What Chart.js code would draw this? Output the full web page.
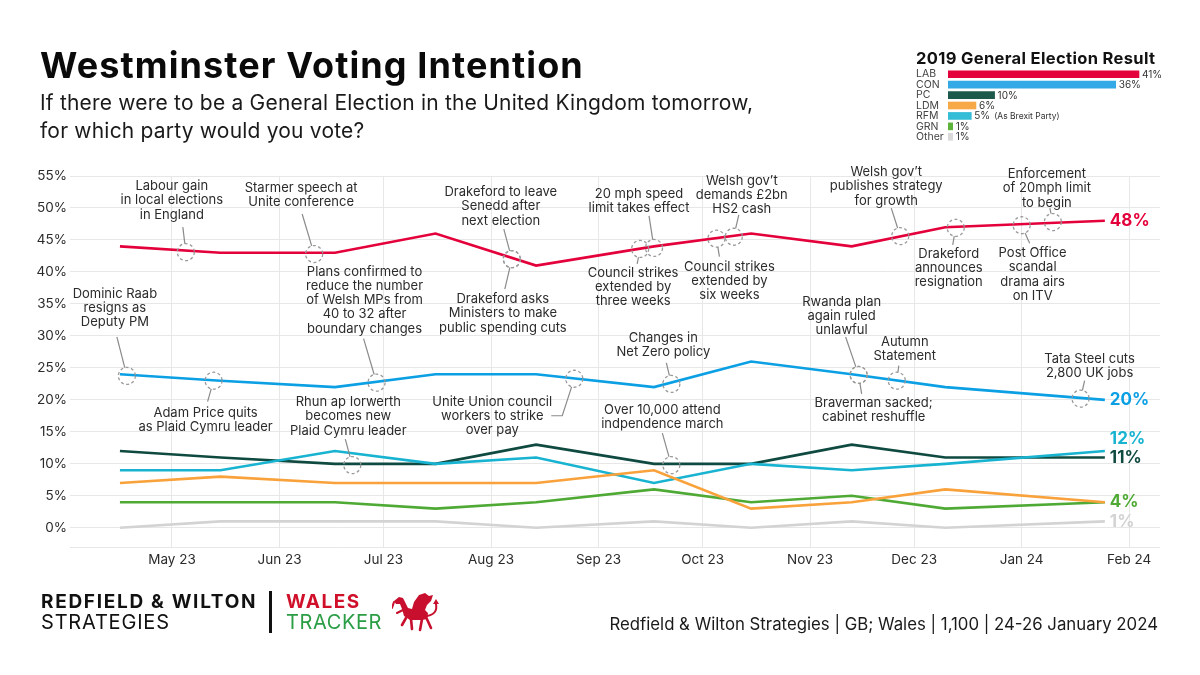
<!DOCTYPE html>
<html>
<head>
<meta charset="utf-8">
<script src="https://cdn.jsdelivr.net/npm/chart.js@4.4.0/dist/chart.umd.min.js"></script>
<style>
  body { margin: 0; width: 1200px; height: 675px; background: #fff; position: relative; overflow: hidden; font-family: Inter, sans-serif; color: #111; }
  .abs { position: absolute; white-space: nowrap; line-height: 1; }
  #title { left: 40px; top: 47px; font-weight: 700; font-size: 36px; letter-spacing: 1.1px; color: #0a0a0a; }
  #sub { left: 40px; top: 89px; font-size: 21px; letter-spacing: 0.2px; line-height: 28px; color: #1a1a1a; }
  #main { position: absolute; left: 0; top: 0; }
  #insetTitle { left: 916px; top: 50px; font-weight: 700; font-size: 16.5px; letter-spacing: 0.35px; color: #111; }
  #inset { position: absolute; left: 916px; top: 69px; }
  #rw1 { left: 41px; top: 592px; font-weight: 700; font-size: 19px; letter-spacing: 1.7px; color: #111; }
  #rw2 { left: 41px; top: 612px; font-size: 20px; letter-spacing: 0.8px; color: #111; }
  #bar { position: absolute; left: 269px; top: 591px; width: 2.5px; height: 42px; background: #111; }
  #w1 { left: 286px; top: 592px; font-weight: 700; font-size: 19px; letter-spacing: 1.5px; color: #d0102a; }
  #w2 { left: 286px; top: 612px; font-size: 20px; letter-spacing: 0.6px; color: #2a9d45; }
  #dragon { position: absolute; left: 392px; top: 592px; }
  #source { right: 42px; top: 616px; font-size: 16.8px; color: #1a1a1a; }
</style>
</head>
<body>
<canvas id="main" width="1200" height="675"></canvas>
<div id="title" class="abs">Westminster Voting Intention</div>
<div id="sub" class="abs">If there were to be a General Election in the United Kingdom tomorrow,<br>for which party would you vote?</div>
<div id="insetTitle" class="abs">2019 General Election Result</div>
<canvas id="inset" width="270" height="73"></canvas>
<div id="rw1" class="abs">REDFIELD &amp; WILTON</div>
<div id="rw2" class="abs">STRATEGIES</div>
<div id="bar"></div>
<div id="w1" class="abs">WALES</div>
<div id="w2" class="abs">TRACKER</div>
<canvas id="dragon" width="48" height="42"></canvas>
<div id="source" class="abs">Redfield &amp; Wilton Strategies | GB; Wales | 1,100 | 24-26 January 2024</div>
<script>
// poll fieldwork dates and shares (%)
const pollDates = ["2023-04-16", "2023-05-15", "2023-06-17", "2023-07-16", "2023-08-14",
                   "2023-09-17", "2023-10-15", "2023-11-13", "2023-12-10", "2024-01-25"];
const lab = [44, 43, 43, 46, 41, 44, 46, 44, 47, 48];
const con = [24, 23, 22, 24, 24, 22, 26, 24, 22, 20];
const pc  = [12, 11, 10, 10, 13, 10, 10, 13, 11, 11];
const rfm = [9, 9, 12, 10, 11, 7, 10, 9, 10, 12];
const ldm = [7, 8, 7, 7, 7, 9, 3, 4, 6, 4];
const grn = [4, 4, 4, 3, 4, 6, 4, 5, 3, 4];
const oth = [0, 1, 1, 1, 0, 1, 0, 1, 0, 1];

const monthTicks = ["2023-05-01", "2023-06-01", "2023-07-01", "2023-08-01", "2023-09-01",
                    "2023-10-01", "2023-11-01", "2023-12-01", "2024-01-01", "2024-02-01"];
const monthLabels = ["May 23", "Jun 23", "Jul 23", "Aug 23", "Sep 23",
                     "Oct 23", "Nov 23", "Dec 23", "Jan 24", "Feb 24"];
const yTicks = [-3, 0, 5, 10, 15, 20, 25, 30, 35, 40, 45, 50, 55];

// 2019 result inset
const resultParties = ["LAB", "CON", "PC", "LDM", "RFM", "GRN", "Other"];
const resultValues = [41, 36, 10, 6, 5, 1, 1];
const resultNotes = ["", "", "", "", "(As Brexit Party)", "", ""];
const resultColors = ["#e4003b", "#33a9e6", "#1d5a4c", "#f8a947", "#35bcd6", "#5eb43a", "#d9d9d9"];

// events: anchor date/value, text, text + leader offsets in px from the circle
const notes = [
  { date: "2023-05-05", value: 43.1, text: ["Labour gain", "in local elections", "in England"], tx: -14, ty: -66, lx: -3, ly: -25 },
  { date: "2023-06-11", value: 42.8, text: ["Starmer speech at", "Unite conference"], tx: -13, ty: -66, lx: -12, ly: -40 },
  { date: "2023-04-18", value: 23.75, text: ["Dominic Raab", "resigns as", "Deputy PM"], tx: -12, ty: -82, lx: -10, ly: -39 },
  { date: "2023-06-29", value: 22.7, text: ["Plans confirmed to", "reduce the number", "of Welsh MPs from", "40 to 32 after", "boundary changes"], tx: -12, ty: -111, lx: -13, ly: -44 },
  { date: "2023-05-13", value: 23, text: ["Adam Price quits", "as Plaid Cymru leader"], tx: -8, ty: 32, lx: -6, ly: 21 },
  { date: "2023-06-22", value: 9.8, text: ["Rhun ap Iorwerth", "becomes new", "Plaid Cymru leader"], tx: -4, ty: -63, lx: -7, ly: -26 },
  { date: "2023-08-07", value: 42, text: ["Drakeford to leave", "Senedd after", "next election"], tx: -11, ty: -67, lx: -8, ly: -30 },
  { date: "2023-08-07", value: 42, text: ["Drakeford asks", "Ministers to make", "public spending cuts"], tx: -9, ty: 40, lx: -7, ly: 30 },
  { date: "2023-09-17", value: 43.75, text: ["20 mph speed", "limit takes effect"], tx: -15, ty: -54, lx: -5, ly: -32 },
  { date: "2023-09-13", value: 43.6, text: ["Council strikes", "extended by", "three weeks"], tx: -7, ty: 24, lx: -3, ly: 15 },
  { date: "2023-10-10", value: 45.5, text: ["Welsh gov\u2019t", "demands \u00a32bn", "HS2 cash"], tx: 8, ty: -56, lx: 5, ly: -22 },
  { date: "2023-10-05", value: 45.2, text: ["Council strikes", "extended by", "six weeks"], tx: 13, ty: 28, lx: 3, ly: 18 },
  { date: "2023-11-27", value: 45.6, text: ["Welsh gov\u2019t", "publishes strategy", "for growth"], tx: -14, ty: -64, lx: -9, ly: -28 },
  { date: "2023-12-13", value: 46.9, text: ["Drakeford", "announces", "resignation"], tx: -7, ty: 26, lx: -3, ly: 17 },
  { date: "2024-01-10", value: 47.8, text: ["Enforcement", "of 20mph limit", "to begin"], tx: -6, ty: -48, lx: -3, ly: -14 },
  { date: "2024-01-01", value: 47.3, text: ["Post Office", "scandal", "drama airs", "on ITV"], tx: 11, ty: 28, lx: 8, ly: 18 },
  { date: "2023-11-15", value: 23.9, text: ["Rwanda plan", "again ruled", "unlawful"], tx: -17, ty: -73, lx: -13, ly: -38 },
  { date: "2023-11-26", value: 23, text: ["Autumn", "Statement"], tx: 8, ty: -39, lx: 2, ly: -15 },
  { date: "2023-11-15", value: 23.9, text: ["Braverman sacked;", "cabinet reshuffle"], tx: 15, ty: 28, lx: 3, ly: 19 },
  { date: "2024-01-18", value: 20.2, text: ["Tata Steel cuts", "2,800 UK jobs"], tx: 9, ty: -40, lx: 4, ly: -18 },
  { date: "2023-09-22", value: 22.5, text: ["Changes in", "Net Zero policy"], tx: -8, ty: -46, lx: -5, ly: -21 },
  { date: "2023-08-25", value: 23.3, text: ["Unite Union council", "workers to strike", "over pay"], tx: -82, ty: 23, lx: -23, ly: 37, bx: -12, by: 37 },
  { date: "2023-09-22", value: 9.8, text: ["Over 10,000 attend", "indpendence march"], tx: -9, ty: -55, lx: -9, ly: -32 }
];

const dayNum = s => (Date.parse(s) - Date.parse("2023-01-01")) / 86400000;
const pts = vals => pollDates.map((d, i) => ({ x: dayNum(d), y: vals[i] }));

const series = [
  { name: "Other", vals: oth, color: "#d3d3d3", dy: 0, tag: true },
  { name: "LDM", vals: ldm, color: "#f9a13a", dy: 0, tag: false },
  { name: "GRN", vals: grn, color: "#4faa35", dy: 0, tag: true },
  { name: "RFM", vals: rfm, color: "#17b3d1", dy: -12, tag: true },
  { name: "PC", vals: pc, color: "#0f4a40", dy: 0, tag: true },
  { name: "CON", vals: con, color: "#0b9fe3", dy: 0, tag: true },
  { name: "LAB", vals: lab, color: "#e4003b", dy: 0, tag: true }
];

const notesPlugin = {
  id: "notes",
  afterDatasetsDraw(chart) {
    const { ctx, scales: { x, y } } = chart;
    const r = 8.5;
    ctx.save();
    notes.forEach(n => {
      const cx = x.getPixelForValue(dayNum(n.date));
      const cy = y.getPixelForValue(n.value);
      ctx.setLineDash([3, 2.5]);
      ctx.strokeStyle = "#9a9a9a";
      ctx.lineWidth = 1.3;
      ctx.beginPath();
      ctx.arc(cx, cy, r, 0, Math.PI * 2);
      ctx.stroke();
      ctx.setLineDash([]);
      // leader line
      const path = [[cx + n.lx, cy + n.ly]];
      if (n.bx !== undefined) path.push([cx + n.bx, cy + n.by]);
      const last = path[path.length - 1];
      const dx = last[0] - cx, dy = last[1] - cy;
      const len = Math.hypot(dx, dy);
      path.push([cx + dx / len * r, cy + dy / len * r]);
      ctx.strokeStyle = "#8a8a8a";
      ctx.lineWidth = 1.2;
      ctx.beginPath();
      path.forEach((p, i) => i ? ctx.lineTo(p[0], p[1]) : ctx.moveTo(p[0], p[1]));
      ctx.stroke();
      // text
      ctx.fillStyle = "#2b2b2b";
      ctx.font = "13px Inter";
      ctx.textAlign = "center";
      ctx.textBaseline = "middle";
      n.text.forEach((t, i) => ctx.fillText(t, cx + n.tx, cy + n.ty + i * 14.3));
    });
    // end labels
    ctx.font = "bold 17px Inter";
    ctx.textAlign = "left";
    chart.data.datasets.forEach((ds, i) => {
      if (!series[i].tag) return;
      const pt = chart.getDatasetMeta(i).data[ds.data.length - 1];
      ctx.fillStyle = ds.borderColor;
      ctx.fillText(ds.data[ds.data.length - 1].y + "%", pt.x + 5, pt.y + series[i].dy);
    });
    ctx.restore();
  }
};

new Chart(document.getElementById("main"), {
  type: "line",
  data: {
    datasets: series.map(s => ({
      label: s.name,
      data: pts(s.vals),
      borderColor: s.color,
      borderWidth: 2.6,
      pointRadius: 0,
      tension: 0
    }))
  },
  options: {
    responsive: false,
    animation: false,
    layout: { padding: { left: 0, top: 176, right: 40, bottom: 98 } },
    plugins: { legend: { display: false }, tooltip: { enabled: false } },
    scales: {
      x: {
        type: "linear",
        min: 90.6,
        max: 404.9,
        afterBuildTicks: s => { s.ticks = monthTicks.map(d => ({ value: dayNum(d) })); },
        afterFit: s => { s.height = 30; },
        grid: { color: "#e7e7e7", drawTicks: false },
        border: { display: false },
        ticks: {
          padding: 5,
          color: "#2b2b2b",
          font: { family: "Inter", size: 13.5 },
          maxRotation: 0,
          autoSkip: false,
          callback: (v, i) => monthLabels[i]
        }
      },
      y: {
        min: -3,
        max: 55,
        afterBuildTicks: s => { s.ticks = yTicks.map(v => ({ value: v })); },
        afterFit: s => { s.width = 70; },
        grid: { color: "#e7e7e7", drawTicks: false },
        border: { display: false },
        ticks: {
          padding: 3,
          color: "#2b2b2b",
          font: { family: "Inter", size: 13.5 },
          callback: v => v < 0 ? "" : v + "%"
        }
      }
    }
  },
  plugins: [notesPlugin]
});

const insetLabels = {
  id: "insetLabels",
  afterDatasetsDraw(chart) {
    const { ctx } = chart;
    ctx.save();
    ctx.textBaseline = "middle";
    ctx.fillStyle = "#333";
    chart.getDatasetMeta(0).data.forEach((bar, i) => {
      ctx.font = "10px Inter";
      const t = resultValues[i] + "%";
      ctx.fillText(t, bar.x + 3, bar.y + 0.5);
      if (resultNotes[i]) {
        const w = ctx.measureText(t).width;
        ctx.font = "8.5px Inter";
        ctx.fillText(resultNotes[i], bar.x + 3 + w + 4, bar.y + 0.5);
      }
    });
    ctx.restore();
  }
};

const insetAxisW = 32, insetPadR = 30;
new Chart(document.getElementById("inset"), {
  type: "bar",
  data: {
    labels: resultParties,
    datasets: [{ data: resultValues, backgroundColor: resultColors, barThickness: 7 }]
  },
  options: {
    indexAxis: "y",
    responsive: false,
    animation: false,
    layout: { padding: { right: insetPadR } },
    plugins: { legend: { display: false }, tooltip: { enabled: false } },
    scales: {
      x: { display: false, min: 0, max: 41 * (270 - insetAxisW - insetPadR) / 191 },
      y: {
        grid: { display: false },
        border: { display: false },
        afterFit: s => { s.width = insetAxisW; s.paddingTop = 0; s.paddingBottom = 0; },
        ticks: { padding: 2, autoSkip: false, crossAlign: "far", color: "#444", font: { family: "Inter", size: 10.5 } }
      }
    }
  },
  plugins: [insetLabels]
});

// little red dragon for the Wales tracker logo
(function () {
  const c = document.getElementById("dragon").getContext("2d");
  c.fillStyle = "#c8102e";
  c.strokeStyle = "#c8102e";
  c.lineCap = "round";
  c.beginPath();
  // head and neck
  c.moveTo(2, 9); c.lineTo(7, 5); c.lineTo(11, 6); c.lineTo(13, 10);
  c.lineTo(16, 16); c.lineTo(20, 17);
  // wing
  c.lineTo(22, 10); c.lineTo(27, 3); c.lineTo(33, 1); c.lineTo(37, 4); c.lineTo(41, 3);
  c.lineTo(39, 9); c.lineTo(35, 13); c.lineTo(33, 18);
  // back and rump
  c.lineTo(36, 21); c.lineTo(35, 27); c.lineTo(30, 28);
  // belly
  c.lineTo(18, 28); c.lineTo(12, 24); c.lineTo(10, 17); c.lineTo(8, 12); c.lineTo(4, 12);
  c.closePath();
  c.fill();
  c.lineWidth = 2.6;
  // legs
  [[14, 26, 10, 33], [19, 27, 20, 37], [30, 27, 28, 38], [34, 25, 39, 36]].forEach(l => {
    c.beginPath(); c.moveTo(l[0], l[1]); c.lineTo(l[2], l[3]); c.stroke();
  });
  // tail
  c.lineWidth = 2;
  c.beginPath(); c.moveTo(35, 24); c.quadraticCurveTo(46, 22, 44, 12); c.stroke();
  c.beginPath(); c.moveTo(41, 12); c.lineTo(44, 7); c.lineTo(47, 12); c.closePath(); c.fill();
  // tongue / foreleg
  c.beginPath(); c.moveTo(2, 10); c.lineTo(0, 16); c.stroke();
  c.beginPath(); c.moveTo(11, 18); c.lineTo(5, 21); c.stroke();
})();
</script>
</body>
</html>
